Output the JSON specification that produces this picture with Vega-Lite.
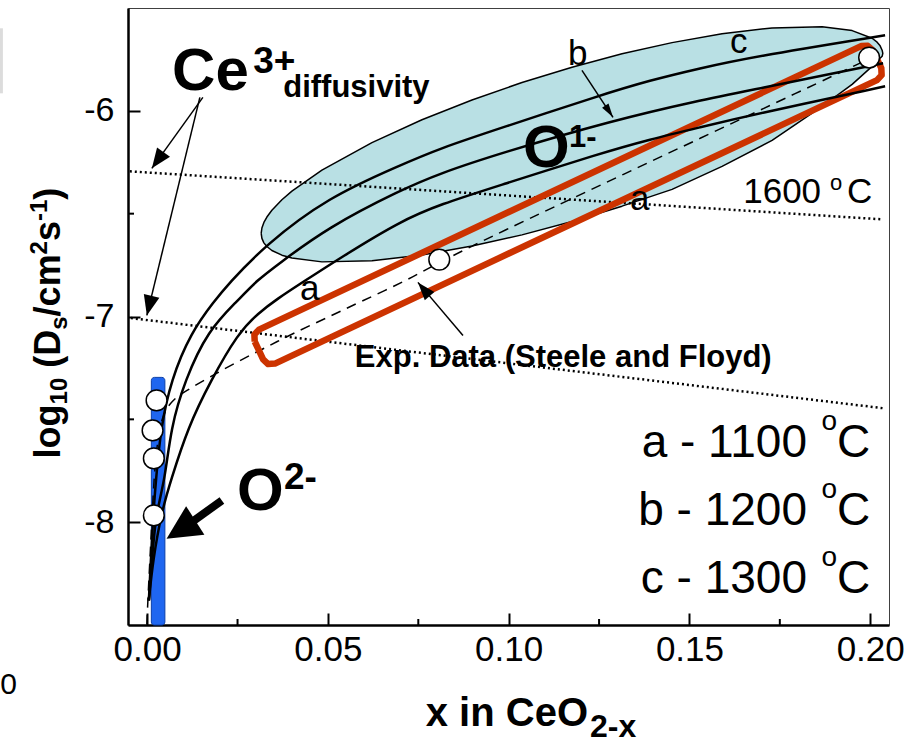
{
  "$schema": "https://vega.github.io/schema/vega-lite/v6.json",
  "width": 761,
  "height": 617,
  "autosize": {"type": "none"},
  "padding": {"left": 128, "top": 8, "right": 28, "bottom": 119},
  "background": "white",
  "config": {
    "font": "Liberation Sans",
    "view": {"stroke": "#404040", "strokeWidth": 1},
    "axis": {"grid": false, "domainColor": "black", "domainWidth": 2.5, "tickColor": "black", "tickWidth": 2, "tickSize": -12, "labelColor": "black", "labelFont": "Liberation Sans"}
  },
  "layer": [
    {
      "data": {"values": [
        {"x": 0.03154, "y": -6.5958, "y2": -6.5958},
        {"x": 0.03174, "y": -6.5696, "y2": -6.6201},
        {"x": 0.03229, "y": -6.5428, "y2": -6.6420},
        {"x": 0.03312, "y": -6.5165, "y2": -6.6595},
        {"x": 0.03450, "y": -6.4835, "y2": -6.6790},
        {"x": 0.03727, "y": -6.4324, "y2": -6.7019},
        {"x": 0.04004, "y": -6.3906, "y2": -6.7160},
        {"x": 0.04834, "y": -6.2884, "y2": -6.7344},
        {"x": 0.06218, "y": -6.1547, "y2": -6.7291},
        {"x": 0.07601, "y": -6.0433, "y2": -6.7009},
        {"x": 0.08985, "y": -5.9470, "y2": -6.6576},
        {"x": 0.10368, "y": -5.8624, "y2": -6.6031},
        {"x": 0.11752, "y": -5.7879, "y2": -6.5384},
        {"x": 0.13135, "y": -5.7228, "y2": -6.4635},
        {"x": 0.14519, "y": -5.6683, "y2": -6.3818},
        {"x": 0.15902, "y": -5.6250, "y2": -6.2699},
        {"x": 0.17286, "y": -5.5968, "y2": -6.1435},
        {"x": 0.18670, "y": -5.5914, "y2": -5.9781},
        {"x": 0.19500, "y": -5.6099, "y2": -5.8711},
        {"x": 0.20053, "y": -5.6469, "y2": -5.7836},
        {"x": 0.20191, "y": -5.6663, "y2": -5.7641},
        {"x": 0.20274, "y": -5.6839, "y2": -5.7447},
        {"x": 0.20330, "y": -5.7052, "y2": -5.7349},
        {"x": 0.20349, "y": -5.7203, "y2": -5.7203}
      ]},
      "mark": {"type": "area", "fill": "#b9e0e4", "opacity": 1},
      "encoding": {
        "x": {"field": "x", "type": "quantitative", "scale": {"domain": [-0.0053, 0.2052], "nice": false, "zero": false},
              "axis": {"values": [0, 0.05, 0.1, 0.15, 0.2], "format": ".2f", "title": null, "labelPadding": 19, "labelFlush": false, "labelFontSize": 35}},
        "y": {"field": "y", "type": "quantitative", "scale": {"domain": [-8.5, -5.5], "nice": false, "zero": false},
              "axis": {"values": [-8, -7, -6], "labelExpr": "'' + datum.value", "title": null, "labelPadding": 26, "labelFontSize": 34}},
        "y2": {"field": "y2"}
      }
    },
    {
      "data": {"values": [
        {"x": -0.0415, "x2": -0.0399, "y": -5.5987, "y2": -5.9149}
      ]},
      "mark": {"type": "rect", "fill": "#dcdcdc"},
      "encoding": {"x": {"field": "x", "type": "quantitative"}, "x2": {"field": "x2"}, "y": {"field": "y", "type": "quantitative"}, "y2": {"field": "y2"}}
    },
    {
      "data": {"values": [
        {"o": 1, "x": 0.03154, "y": -6.5958}, {"o": 2, "x": 0.03174, "y": -6.5696}, {"o": 3, "x": 0.03229, "y": -6.5428},
        {"o": 4, "x": 0.03312, "y": -6.5165}, {"o": 5, "x": 0.03450, "y": -6.4835}, {"o": 6, "x": 0.03727, "y": -6.4324},
        {"o": 7, "x": 0.04004, "y": -6.3906}, {"o": 8, "x": 0.04834, "y": -6.2884}, {"o": 9, "x": 0.06218, "y": -6.1547},
        {"o": 10, "x": 0.07601, "y": -6.0433}, {"o": 11, "x": 0.08985, "y": -5.9470}, {"o": 12, "x": 0.10368, "y": -5.8624},
        {"o": 13, "x": 0.11752, "y": -5.7879}, {"o": 14, "x": 0.13135, "y": -5.7228}, {"o": 15, "x": 0.14519, "y": -5.6683},
        {"o": 16, "x": 0.15902, "y": -5.6250}, {"o": 17, "x": 0.17286, "y": -5.5968}, {"o": 18, "x": 0.18670, "y": -5.5914},
        {"o": 19, "x": 0.19500, "y": -5.6099}, {"o": 20, "x": 0.20053, "y": -5.6469}, {"o": 21, "x": 0.20191, "y": -5.6663},
        {"o": 22, "x": 0.20274, "y": -5.6839}, {"o": 23, "x": 0.20330, "y": -5.7052}, {"o": 24, "x": 0.20349, "y": -5.7203},
        {"o": 25, "x": 0.20330, "y": -5.7349}, {"o": 26, "x": 0.20274, "y": -5.7447}, {"o": 27, "x": 0.20191, "y": -5.7641},
        {"o": 28, "x": 0.20053, "y": -5.7836}, {"o": 29, "x": 0.19500, "y": -5.8711}, {"o": 30, "x": 0.18670, "y": -5.9781},
        {"o": 31, "x": 0.17286, "y": -6.1435}, {"o": 32, "x": 0.15902, "y": -6.2699}, {"o": 33, "x": 0.14519, "y": -6.3818},
        {"o": 34, "x": 0.13135, "y": -6.4635}, {"o": 35, "x": 0.11752, "y": -6.5384}, {"o": 36, "x": 0.10368, "y": -6.6031},
        {"o": 37, "x": 0.08985, "y": -6.6576}, {"o": 38, "x": 0.07601, "y": -6.7009}, {"o": 39, "x": 0.06218, "y": -6.7291},
        {"o": 40, "x": 0.04834, "y": -6.7344}, {"o": 41, "x": 0.04004, "y": -6.7160}, {"o": 42, "x": 0.03727, "y": -6.7019},
        {"o": 43, "x": 0.03450, "y": -6.6790}, {"o": 44, "x": 0.03312, "y": -6.6595}, {"o": 45, "x": 0.03229, "y": -6.6420},
        {"o": 46, "x": 0.03174, "y": -6.6201}, {"o": 47, "x": 0.03154, "y": -6.5958}
      ]},
      "mark": {"type": "line", "color": "black", "strokeWidth": 1.5, "strokeJoin": "round"},
      "encoding": {"x": {"field": "x", "type": "quantitative"}, "y": {"field": "y", "type": "quantitative"}, "order": {"field": "o", "type": "quantitative"}}
    },
    {
      "data": {"values": [
        {"id": "d1", "x": -0.0048, "y": -6.2943}, {"id": "d1", "x": 0.2033, "y": -6.5277},
        {"id": "d2", "x": -0.0045, "y": -7.0078}, {"id": "d2", "x": 0.2041, "y": -7.4470}
      ]},
      "mark": {"type": "line", "color": "black", "strokeWidth": 2.5, "strokeDash": [2, 3]},
      "encoding": {"x": {"field": "x", "type": "quantitative"}, "y": {"field": "y", "type": "quantitative"}, "detail": {"field": "id"}}
    },
    {
      "data": {"values": [
        {"x": 0.00116, "x2": 0.0049, "y": -7.296, "y2": -8.5}
      ]},
      "mark": {"type": "rect", "fill": "#1f66f0", "stroke": "#0b3fa8", "strokeWidth": 1, "cornerRadius": 3},
      "encoding": {"x": {"field": "x", "type": "quantitative"}, "x2": {"field": "x2"}, "y": {"field": "y", "type": "quantitative"}, "y2": {"field": "y2"}}
    },
    {
      "data": {"values": [
        {"x": -0.00008, "y": -8.4976}, {"x": 0.00019, "y": -8.3808}, {"x": 0.00075, "y": -8.1863},
        {"x": 0.00130, "y": -7.9917}, {"x": 0.00185, "y": -7.7972}, {"x": 0.00268, "y": -7.6269},
        {"x": 0.00407, "y": -7.4810}, {"x": 0.00683, "y": -7.4081}, {"x": 0.01043, "y": -7.3643},
        {"x": 0.01763, "y": -7.2913}, {"x": 0.02510, "y": -7.2184}, {"x": 0.03340, "y": -7.1454},
        {"x": 0.04087, "y": -7.0773}, {"x": 0.05000, "y": -7.0044}, {"x": 0.05913, "y": -6.9266},
        {"x": 0.07131, "y": -6.8293}, {"x": 0.08071, "y": -6.7369}, {"x": 0.09759, "y": -6.5910},
        {"x": 0.12526, "y": -6.3624}, {"x": 0.15293, "y": -6.1338}, {"x": 0.18061, "y": -5.9052},
        {"x": 0.19998, "y": -5.7447}
      ]},
      "mark": {"type": "line", "color": "black", "strokeWidth": 1.5, "strokeDash": [10, 7], "interpolate": "basis"},
      "encoding": {"x": {"field": "x", "type": "quantitative"}, "y": {"field": "y", "type": "quantitative"}}
    },
    {
      "data": {"values": [
        {"o": 1, "x": 0.02975, "y": -7.1216}, {"o": 2, "x": 0.02966, "y": -7.0880}, {"o": 3, "x": 0.03094, "y": -7.0637},
        {"o": 4, "x": 0.19746, "y": -5.6853}, {"o": 5, "x": 0.19934, "y": -5.6839}, {"o": 6, "x": 0.20075, "y": -5.7062},
        {"o": 7, "x": 0.20307, "y": -5.7928}, {"o": 8, "x": 0.20316, "y": -5.8264}, {"o": 9, "x": 0.20188, "y": -5.8507},
        {"o": 10, "x": 0.03536, "y": -7.2291}, {"o": 11, "x": 0.03345, "y": -7.2310}, {"o": 12, "x": 0.03207, "y": -7.2082},
        {"o": 13, "x": 0.02975, "y": -7.1216}
      ]},
      "mark": {"type": "line", "color": "#cc3300", "strokeWidth": 6.5, "strokeJoin": "round"},
      "encoding": {"x": {"field": "x", "type": "quantitative"}, "y": {"field": "y", "type": "quantitative"}, "order": {"field": "o", "type": "quantitative"}}
    },
    {
      "data": {"values": [
        {"id": "c", "x": 0.00047, "y": -8.3808}, {"id": "c", "x": 0.00102, "y": -8.1863}, {"id": "c", "x": 0.00158, "y": -7.9917},
        {"id": "c", "x": 0.00240, "y": -7.7972}, {"id": "c", "x": 0.00379, "y": -7.5394}, {"id": "c", "x": 0.00656, "y": -7.3108},
        {"id": "c", "x": 0.01209, "y": -7.0773}, {"id": "c", "x": 0.01873, "y": -6.9217}, {"id": "c", "x": 0.02233, "y": -6.8439},
        {"id": "c", "x": 0.03257, "y": -6.6542}, {"id": "c", "x": 0.05000, "y": -6.4207}, {"id": "c", "x": 0.06992, "y": -6.2651},
        {"id": "c", "x": 0.08099, "y": -6.1824}, {"id": "c", "x": 0.09759, "y": -6.0851}, {"id": "c", "x": 0.12526, "y": -5.9246},
        {"id": "c", "x": 0.13910, "y": -5.8517}, {"id": "c", "x": 0.15293, "y": -5.7933}, {"id": "c", "x": 0.16677, "y": -5.7398},
        {"id": "c", "x": 0.20412, "y": -5.6328},
        {"id": "b", "x": 0.00047, "y": -8.3808}, {"id": "b", "x": 0.00130, "y": -8.1863}, {"id": "b", "x": 0.00240, "y": -7.9577},
        {"id": "b", "x": 0.00490, "y": -7.7972}, {"id": "b", "x": 0.00656, "y": -7.5394}, {"id": "b", "x": 0.01043, "y": -7.3108},
        {"id": "b", "x": 0.01680, "y": -7.0676}, {"id": "b", "x": 0.02510, "y": -6.9217}, {"id": "b", "x": 0.03035, "y": -6.8244},
        {"id": "b", "x": 0.03617, "y": -6.7466}, {"id": "b", "x": 0.05000, "y": -6.5666}, {"id": "b", "x": 0.06992, "y": -6.3867},
        {"id": "b", "x": 0.08099, "y": -6.3040}, {"id": "b", "x": 0.09759, "y": -6.2067}, {"id": "b", "x": 0.12886, "y": -6.0462},
        {"id": "b", "x": 0.15293, "y": -5.9489}, {"id": "b", "x": 0.16677, "y": -5.9003}, {"id": "b", "x": 0.20357, "y": -5.7690},
        {"id": "a", "x": 0.00047, "y": -8.3808}, {"id": "a", "x": 0.00158, "y": -8.1863}, {"id": "a", "x": 0.00407, "y": -7.9431},
        {"id": "a", "x": 0.00656, "y": -7.7972}, {"id": "a", "x": 0.01126, "y": -7.5394}, {"id": "a", "x": 0.01763, "y": -7.3108},
        {"id": "a", "x": 0.02510, "y": -7.0822}, {"id": "a", "x": 0.03063, "y": -6.9849}, {"id": "a", "x": 0.03617, "y": -6.9120},
        {"id": "a", "x": 0.04253, "y": -6.8390}, {"id": "a", "x": 0.05360, "y": -6.7126}, {"id": "a", "x": 0.06992, "y": -6.5375},
        {"id": "a", "x": 0.08099, "y": -6.4548}, {"id": "a", "x": 0.09759, "y": -6.3624}, {"id": "a", "x": 0.12526, "y": -6.2067},
        {"id": "a", "x": 0.13910, "y": -6.1386}, {"id": "a", "x": 0.15293, "y": -6.0803}, {"id": "a", "x": 0.16677, "y": -6.0219},
        {"id": "a", "x": 0.20412, "y": -5.8808}
      ]},
      "mark": {"type": "line", "color": "black", "strokeWidth": 2.5, "interpolate": "basis"},
      "encoding": {"x": {"field": "x", "type": "quantitative"}, "y": {"field": "y", "type": "quantitative"}, "detail": {"field": "id"}}
    },
    {
      "data": {"values": [
        {"x": 0.0026, "y": -7.408}, {"x": 0.0015, "y": -7.554}, {"x": 0.00185, "y": -7.690},
        {"x": 0.00185, "y": -7.967}, {"x": 0.0808, "y": -6.724}, {"x": 0.1997, "y": -5.741}
      ]},
      "mark": {"type": "point", "shape": "circle", "filled": true, "fill": "white", "stroke": "black", "strokeWidth": 1.5, "size": 430, "opacity": 1},
      "encoding": {"x": {"field": "x", "type": "quantitative"}, "y": {"field": "y", "type": "quantitative"}}
    },
    {
      "data": {"values": [
        {"id": "ce1", "x": 0.01541, "y": -5.9343}, {"id": "ce1", "x": 0.0013, "y": -6.2797},
        {"id": "ce2", "x": 0.01458, "y": -5.9343}, {"id": "ce2", "x": -0.00008, "y": -6.9946},
        {"id": "b", "x": 0.12027, "y": -5.8030}, {"id": "b", "x": 0.12885, "y": -6.0316},
        {"id": "exp", "x": 0.08736, "y": -7.0919}, {"id": "exp", "x": 0.07490, "y": -6.8341}
      ]},
      "mark": {"type": "line", "color": "black", "strokeWidth": 1.5},
      "encoding": {"x": {"field": "x", "type": "quantitative"}, "y": {"field": "y", "type": "quantitative"}, "detail": {"field": "id"}}
    },
    {
      "data": {"values": [
        {"x": 0.02067, "y": -7.8945}, {"x": 0.01182, "y": -8.0063}
      ]},
      "mark": {"type": "line", "color": "black", "strokeWidth": 8},
      "encoding": {"x": {"field": "x", "type": "quantitative"}, "y": {"field": "y", "type": "quantitative"}}
    },
    {
      "data": {"values": [{"x": 0.0013, "y": -6.2797}]},
      "mark": {"type": "point", "shape": "M0,0L0.8,2L-0.8,2Z", "filled": true, "color": "black", "opacity": 1, "size": 400, "angle": 215.7},
      "encoding": {"x": {"field": "x", "type": "quantitative"}, "y": {"field": "y", "type": "quantitative"}}
    },
    {
      "data": {"values": [{"x": -0.00008, "y": -6.9946}]},
      "mark": {"type": "point", "shape": "M0,0L0.8,2L-0.8,2Z", "filled": true, "color": "black", "opacity": 1, "size": 400, "angle": 193.7},
      "encoding": {"x": {"field": "x", "type": "quantitative"}, "y": {"field": "y", "type": "quantitative"}}
    },
    {
      "data": {"values": [{"x": 0.12886, "y": -6.0316}]},
      "mark": {"type": "point", "shape": "M0,0L0.55,2L-0.55,2Z", "filled": true, "color": "black", "opacity": 1, "size": 196, "angle": 146.6},
      "encoding": {"x": {"field": "x", "type": "quantitative"}, "y": {"field": "y", "type": "quantitative"}}
    },
    {
      "data": {"values": [{"x": 0.07490, "y": -6.8341}]},
      "mark": {"type": "point", "shape": "M0,0L0.7,2L-0.7,2Z", "filled": true, "color": "black", "opacity": 1, "size": 324, "angle": 319.7},
      "encoding": {"x": {"field": "x", "type": "quantitative"}, "y": {"field": "y", "type": "quantitative"}}
    },
    {
      "data": {"values": [{"x": 0.00537, "y": -8.0807}]},
      "mark": {"type": "point", "shape": "M0,0L1,2L-1,2Z", "filled": true, "color": "black", "opacity": 1, "size": 1156, "angle": 237.5},
      "encoding": {"x": {"field": "x", "type": "quantitative"}, "y": {"field": "y", "type": "quantitative"}}
    },
    {
      "data": {"values": [
        {"x": 0.025, "x2": 0.025, "y": -8.5, "y2": -8.4708},
        {"x": 0.075, "x2": 0.075, "y": -8.5, "y2": -8.4708},
        {"x": 0.125, "x2": 0.125, "y": -8.5, "y2": -8.4708},
        {"x": 0.175, "x2": 0.175, "y": -8.5, "y2": -8.4708},
        {"x": -0.0053, "x2": -0.00364, "y": -6.5, "y2": -6.5},
        {"x": -0.0053, "x2": -0.00364, "y": -7.5, "y2": -7.5}
      ]},
      "mark": {"type": "rule", "color": "black", "strokeWidth": 2},
      "encoding": {"x": {"field": "x", "type": "quantitative"}, "x2": {"field": "x2"}, "y": {"field": "y", "type": "quantitative"}, "y2": {"field": "y2"}}
    },
    {
      "data": {"values": [
        {"x": 0.00689, "y": -5.9003, "t": "Ce"},
        {"x": 0.10396, "y": -6.2748, "t": "O"},
        {"x": 0.02488, "y": -7.9431, "t": "O"}
      ]},
      "mark": {"type": "text", "fontSize": 60, "fontWeight": "bold", "align": "left", "baseline": "alphabetic", "color": "black"},
      "encoding": {"x": {"field": "x", "type": "quantitative"}, "y": {"field": "y", "type": "quantitative"}, "text": {"field": "t", "type": "nominal"}}
    },
    {
      "data": {"values": [
        {"x": 0.02933, "y": -5.8176, "t": "3+"},
        {"x": 0.03782, "y": -7.8409, "t": "2-"}
      ]},
      "mark": {"type": "text", "fontSize": 37, "fontWeight": "bold", "align": "left", "baseline": "alphabetic", "color": "black"},
      "encoding": {"x": {"field": "x", "type": "quantitative"}, "y": {"field": "y", "type": "quantitative"}, "text": {"field": "t", "type": "nominal"}}
    },
    {
      "data": {"values": [{"x": 0.11669, "y": -6.1775, "t": "1-"}]},
      "mark": {"type": "text", "fontSize": 31, "fontWeight": "bold", "align": "left", "baseline": "alphabetic", "color": "black"},
      "encoding": {"x": {"field": "x", "type": "quantitative"}, "y": {"field": "y", "type": "quantitative"}, "text": {"field": "t", "type": "nominal"}}
    },
    {
      "data": {"values": [{"x": 0.03763, "y": -5.9329, "t": "diffusivity"}]},
      "mark": {"type": "text", "fontSize": 31, "fontWeight": "bold", "align": "left", "baseline": "alphabetic", "color": "black"},
      "encoding": {"x": {"field": "x", "type": "quantitative"}, "y": {"field": "y", "type": "quantitative"}, "text": {"field": "t", "type": "nominal"}}
    },
    {
      "data": {"values": [{"x": 0.05744, "y": -7.2476, "t": "Exp. Data (Steele and Floyd)"}]},
      "mark": {"type": "text", "fontSize": 31, "fontWeight": "bold", "align": "left", "baseline": "alphabetic", "color": "black"},
      "encoding": {"x": {"field": "x", "type": "quantitative"}, "y": {"field": "y", "type": "quantitative"}, "text": {"field": "t", "type": "nominal"}}
    },
    {
      "data": {"values": [
        {"x": 0.16487, "y": -6.4499, "t": "1600"},
        {"x": 0.19361, "y": -6.4499, "t": "C"},
        {"x": 0.04225, "y": -6.9217, "t": "a"},
        {"x": 0.13356, "y": -6.4840, "t": "a"},
        {"x": 0.11641, "y": -5.7787, "t": "b"},
        {"x": 0.16123, "y": -5.7203, "t": "c"}
      ]},
      "mark": {"type": "text", "fontSize": 35, "fontWeight": "normal", "align": "left", "baseline": "alphabetic", "color": "black"},
      "encoding": {"x": {"field": "x", "type": "quantitative"}, "y": {"field": "y", "type": "quantitative"}, "text": {"field": "t", "type": "nominal"}}
    },
    {
      "data": {"values": [{"x": 0.18890, "y": -6.3867, "t": "o"}]},
      "mark": {"type": "text", "fontSize": 22, "fontWeight": "normal", "align": "left", "baseline": "alphabetic", "color": "black"},
      "encoding": {"x": {"field": "x", "type": "quantitative"}, "y": {"field": "y", "type": "quantitative"}, "text": {"field": "t", "type": "nominal"}}
    },
    {
      "data": {"values": [
        {"x": 0.18253, "y": -7.6853, "t": "a - 1100"},
        {"x": 0.18253, "y": -8.0161, "t": "b - 1200"},
        {"x": 0.18253, "y": -8.3468, "t": "c - 1300"},
        {"x": 0.19998, "y": -7.6853, "t": "C"},
        {"x": 0.19998, "y": -8.0161, "t": "C"},
        {"x": 0.19998, "y": -8.3468, "t": "C"}
      ]},
      "mark": {"type": "text", "fontSize": 46, "fontWeight": "normal", "align": "right", "baseline": "alphabetic", "color": "black"},
      "encoding": {"x": {"field": "x", "type": "quantitative"}, "y": {"field": "y", "type": "quantitative"}, "text": {"field": "t", "type": "nominal"}}
    },
    {
      "data": {"values": [
        {"x": 0.19085, "y": -7.5540, "t": "o"},
        {"x": 0.19085, "y": -7.8847, "t": "o"},
        {"x": 0.19085, "y": -8.2155, "t": "o"}
      ]},
      "mark": {"type": "text", "fontSize": 28, "fontWeight": "normal", "align": "right", "baseline": "alphabetic", "color": "black"},
      "encoding": {"x": {"field": "x", "type": "quantitative"}, "y": {"field": "y", "type": "quantitative"}, "text": {"field": "t", "type": "nominal"}}
    },
    {
      "data": {"values": [{"x": 0.12194, "y": -8.9888, "t": "x in CeO"}]},
      "mark": {"type": "text", "fontSize": 40, "fontWeight": "bold", "align": "right", "baseline": "alphabetic", "color": "black"},
      "encoding": {"x": {"field": "x", "type": "quantitative"}, "y": {"field": "y", "type": "quantitative"}, "text": {"field": "t", "type": "nominal"}}
    },
    {
      "data": {"values": [{"x": 0.12249, "y": -9.0423, "t": "2-x"}]},
      "mark": {"type": "text", "fontSize": 32, "fontWeight": "bold", "align": "left", "baseline": "alphabetic", "color": "black"},
      "encoding": {"x": {"field": "x", "type": "quantitative"}, "y": {"field": "y", "type": "quantitative"}, "text": {"field": "t", "type": "nominal"}}
    },
    {
      "data": {"values": [
        {"x": -0.02416, "y": -7.6902, "t": "log"},
        {"x": -0.02416, "y": -7.2490, "t": "(D"},
        {"x": -0.02416, "y": -6.9995, "t": "/cm"},
        {"x": -0.02416, "y": -6.6333, "t": "s"},
        {"x": -0.02416, "y": -6.4324, "t": ")"}
      ]},
      "mark": {"type": "text", "fontSize": 36, "fontWeight": "bold", "align": "left", "baseline": "alphabetic", "angle": 270, "color": "black"},
      "encoding": {"x": {"field": "x", "type": "quantitative"}, "y": {"field": "y", "type": "quantitative"}, "text": {"field": "t", "type": "nominal"}}
    },
    {
      "data": {"values": [
        {"x": -0.02222, "y": -7.4275, "t": "10"},
        {"x": -0.02222, "y": -7.0642, "t": "s"},
        {"x": -0.02775, "y": -6.6980, "t": "2"},
        {"x": -0.02775, "y": -6.5360, "t": "-1"}
      ]},
      "mark": {"type": "text", "fontSize": 24, "fontWeight": "bold", "align": "left", "baseline": "alphabetic", "angle": 270, "color": "black"},
      "encoding": {"x": {"field": "x", "type": "quantitative"}, "y": {"field": "y", "type": "quantitative"}, "text": {"field": "t", "type": "nominal"}}
    },
    {
      "data": {"values": [{"x": -0.04062, "y": -8.8332, "t": "0"}]},
      "mark": {"type": "text", "fontSize": 30, "fontWeight": "normal", "align": "left", "baseline": "alphabetic", "color": "black"},
      "encoding": {"x": {"field": "x", "type": "quantitative"}, "y": {"field": "y", "type": "quantitative"}, "text": {"field": "t", "type": "nominal"}}
    }
  ]
}
